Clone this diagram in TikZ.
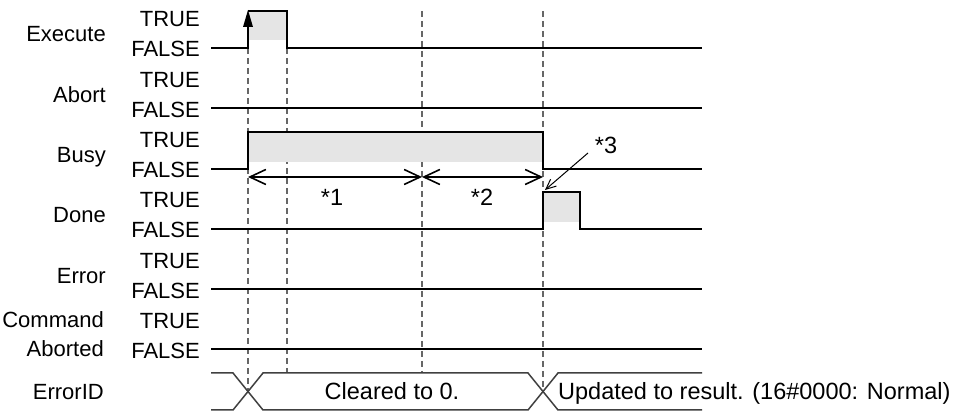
\documentclass[tikz,border=0pt]{standalone}
\usepackage{fontspec}
\setmainfont{Liberation Sans}
\usepackage{tikz}
\usetikzlibrary{arrows.meta}

\newcommand{\tdfont}{\fontsize{22}{26}\selectfont}
\newcommand{\busfont}{\fontsize{23.5}{27}\selectfont}

\begin{document}
\begin{tikzpicture}[x=1pt,y=-1pt,
  every node/.style={font=\tdfont,inner sep=0pt},
  sig/.style={line width=2pt,line join=miter},
  bus/.style={line width=1.5pt,black!75},
  guide/.style={black!60,line width=1.3pt,dash pattern=on 6pt off 4pt},
  hi/.style={fill=black!10},
  span/.style={line width=1.6pt,
    {Straight Barb[length=16pt 0,width=15pt 0]}-{Straight Barb[length=16pt 0,width=15pt 0]}}
]
  \useasboundingbox (0,0) rectangle (956,411);

  % Signal names (right aligned)
  \foreach \i/\nm in {0/Execute,1/Abort,2/Busy,3/Done,4/Error}{
    \node[anchor=base east] (name\i) at (106,48+60.3*\i-6) {\nm};
  }
  \node[anchor=base east] (cmd) at (104,328) {Command};
  \node[anchor=base east] (abt) at (104,357) {Aborted};
  \node[anchor=base east] (eid) at (104,400) {ErrorID};

  % TRUE / FALSE levels
  \foreach \i in {0,...,5}{
    \node[anchor=base east] (true\i) at (200,48+60.3*\i-21) {TRUE};
    \node[anchor=base east] (false\i) at (200,48+60.3*\i+9) {FALSE};
  }

  % Time guides
  \draw[guide] (248,48) -- (248,392);
  \draw[guide] (287,48) -- (287,373);
  \draw[guide] (422,11) -- (422,373);
  \draw[guide] (543,11) -- (543,392);

  % Execute
  \fill[hi] (248,11) rectangle (287,40);
  \draw[sig] (211,48) -- (248,48) -- (248,24);
  \fill (248,10) -- (253,27) -- (243,27) -- cycle;
  \draw[sig] (248,11) -- (287,11) -- (287,48) -- (702,48);

  % Busy
  \fill[hi] (248,131.6) rectangle (543,161.6);
  \draw[sig] (211,168.6) -- (248,168.6) -- (248,131.6) -- (543,131.6)
    -- (543,168.6) -- (702,168.6);

  % Done
  \fill[hi] (543,191.9) rectangle (580,221.9);
  \draw[sig] (211,228.9) -- (543,228.9) -- (543,191.9) -- (580,191.9)
    -- (580,228.9) -- (702,228.9);

  % Abort, Error, CommandAborted stay FALSE
  \foreach \y in {108.3,289.2,349.5}{
    \draw[sig] (211,\y) -- (702,\y);
  }

  % ErrorID bus
  \draw[bus] (211,373) -- (233,373) -- (263,410) -- (528,410) -- (558,373) -- (702,373);
  \draw[bus] (211,410) -- (233,410) -- (263,373) -- (528,373) -- (558,410) -- (702,410);
  \node[anchor=base,font=\busfont] (clr) at (392,400) {Cleared to 0.};
  \node[anchor=base west,font=\busfont] (upd) at (558,400) {Updated to result. (16\#0000: Normal)};

  % Intervals *1 and *2
  \coordinate (s0) at (248,177);
  \coordinate (s1) at (422,177);
  \coordinate (s2) at (543,177);
  \draw[span] (s0) -- (s1);
  \draw[span] (s1) -- (s2);
  \node[anchor=base,font=\busfont] (n1) at (332,206) {*1};
  \node[anchor=base,font=\busfont] (n2) at (482,206) {*2};

  % *3 pointer to Done rising edge
  \node[anchor=base,font=\busfont] (n3) at (606,154) {*3};
  \coordinate (c3) at (588,153);
  \coordinate (d3) at (545,190);
  \draw[line width=1pt,-{Straight Barb[length=10pt 0,width=9pt 0]}] (c3) -- (d3);

\end{tikzpicture}
\end{document}
